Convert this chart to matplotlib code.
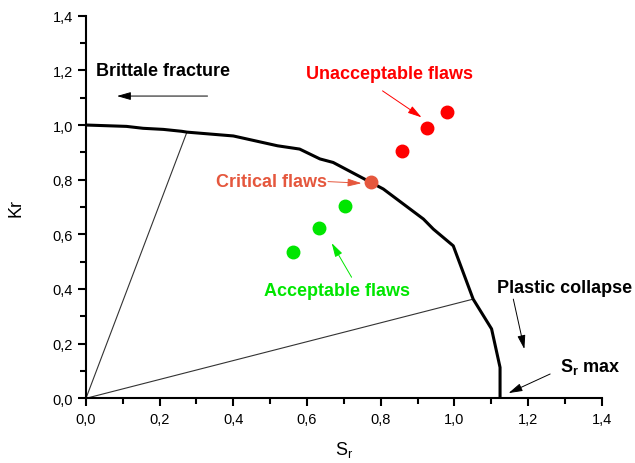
import matplotlib
matplotlib.use('Agg')
import matplotlib.pyplot as plt
from matplotlib.ticker import MultipleLocator, FuncFormatter

plt.rcParams['font.family'] = ['Liberation Sans', 'DejaVu Sans']

# failure assessment curve (Sr, Kr)
curve_sr = [0.0, 0.11, 0.155, 0.21, 0.26, 0.274, 0.40, 0.52, 0.58, 0.635, 0.671,
            0.807, 0.916, 0.943, 0.997, 1.051, 1.101, 1.124, 1.124]
curve_kr = [1.0, 0.995, 0.988, 0.984, 0.977, 0.974, 0.96, 0.924, 0.912, 0.876, 0.863,
            0.766, 0.656, 0.619, 0.558, 0.363, 0.254, 0.113, 0.0]

# load lines from origin
load_sr = [[0.0, 0.274], [0.0, 1.051]]
load_kr = [[0.0, 0.974], [0.0, 0.363]]

unacc_sr = [0.859, 0.925, 0.981]
unacc_kr = [0.906, 0.988, 1.046]
crit_sr = [0.773]
crit_kr = [0.793]
acc_sr = [0.563, 0.632, 0.703]
acc_kr = [0.534, 0.623, 0.702]

red = '#ff0000'
orange = '#e5573d'
green = '#00e600'

fig = plt.figure(figsize=(6.35, 4.64), dpi=100)
ax = fig.add_axes([0.1354, 0.1394, 0.8122, 0.8246])

for xs, ys in zip(load_sr, load_kr):
    ax.plot(xs, ys, color='#333333', lw=0.8)
ax.plot(curve_sr, curve_kr, color='black', lw=2.2)

ax.plot(unacc_sr, unacc_kr, 'o', color=red, ms=9, zorder=5)
ax.plot(crit_sr, crit_kr, 'o', color=orange, ms=9, zorder=5)
ax.plot(acc_sr, acc_kr, 'o', color=green, ms=9, zorder=5)

fs = 13
arr = '-|>,head_length=0.7,head_width=0.2'


def arrow(tip, tail, c):
    ax.annotate('', xy=tip, xytext=tail,
                arrowprops=dict(arrowstyle=arr, color=c, lw=0.7, mutation_scale=12,
                                shrinkA=0, shrinkB=0))


ax.text(0.027, 1.2, 'Brittale fracture', fontsize=fs, fontweight='bold', va='center')
arrow((0.084, 1.106), (0.33, 1.106), 'black')

ax.text(0.825, 1.187, 'Unacceptable flaws', fontsize=fs, fontweight='bold',
        color=red, ha='center', va='center')
arrow((0.911, 1.028), (0.805, 1.125), red)

ax.text(0.655, 0.795, 'Critical flaws', fontsize=fs, fontweight='bold',
        color=orange, ha='right', va='center')
arrow((0.748, 0.787), (0.657, 0.793), orange)

ax.text(0.681, 0.396, 'Acceptable flaws', fontsize=fs, fontweight='bold',
        color=green, ha='center', va='center')
arrow((0.667, 0.568), (0.721, 0.443), green)

ax.text(1.115, 0.406, 'Plastic collapse', fontsize=fs, fontweight='bold', va='center')
arrow((1.19, 0.18), (1.16, 0.363), 'black')

ax.text(1.287, 0.119, r'S$_{\mathregular{r}}$ max', fontsize=fs, fontweight='bold', va='center')
arrow((1.147, 0.019), (1.26, 0.089), 'black')

ax.set_xlim(0, 1.4)
ax.set_ylim(0, 1.4)
ax.spines['top'].set_visible(False)
ax.spines['right'].set_visible(False)
ax.spines['left'].set_linewidth(1.5)
ax.spines['bottom'].set_linewidth(1.5)
ax.xaxis.set_major_locator(MultipleLocator(0.2))
ax.xaxis.set_minor_locator(MultipleLocator(0.1))
ax.yaxis.set_major_locator(MultipleLocator(0.2))
ax.yaxis.set_minor_locator(MultipleLocator(0.1))
fmt = FuncFormatter(lambda v, p: ('%.1f' % v).replace('.', ','))
ax.xaxis.set_major_formatter(fmt)
ax.yaxis.set_major_formatter(fmt)
ax.tick_params(which='major', direction='out', length=6, width=1.5, labelsize=10.5)
ax.tick_params(which='minor', direction='out', length=4, width=1.5)

ax.set_xlabel(r'S$_{\mathregular{r}}$', fontsize=13, labelpad=10)
ax.set_ylabel('Kr', fontsize=13, labelpad=20)

fig.savefig('out.png', dpi=100)
